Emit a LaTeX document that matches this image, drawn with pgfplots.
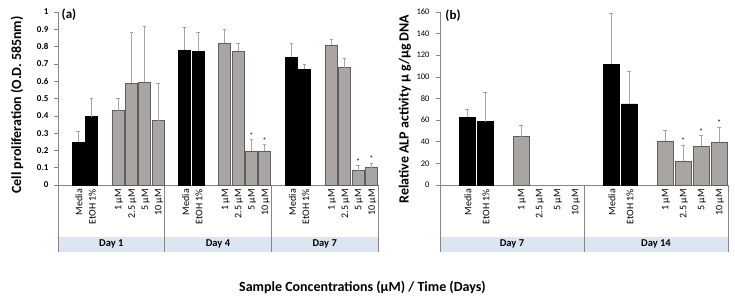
\documentclass[border=0pt]{standalone}
\usepackage{fontspec}
\setmainfont{Carlito}
\usepackage{pgfplots}
\pgfplotsset{compat=1.18}
\usepackage{pgfplotstable}

\definecolor{bargrey}{RGB}{168,165,162}
\definecolor{baredge}{RGB}{95,95,95}
\definecolor{errgrey}{RGB}{165,165,165}
\definecolor{axgrey}{RGB}{134,134,134}
\definecolor{bandblue}{RGB}{220,230,242}

% x = 8*group + position + 0.5 ; positions: 0 blank,1 Media,2 EtOH,3 blank,4 1uM,5 2.5uM,6 5uM,7 10uM
\pgfplotstableread{
x y e
1.5 0.247 0.065
2.5 0.395 0.104
9.5 0.780 0.130
10.5 0.773 0.107
17.5 0.738 0.080
18.5 0.670 0.027
}\LeftBlack
\pgfplotstableread{
x y e
4.5 0.430 0.070
5.5 0.588 0.295
6.5 0.594 0.321
7.5 0.372 0.216
12.5 0.819 0.081
13.5 0.773 0.046
14.5 0.197 0.067
15.5 0.197 0.038
20.5 0.810 0.032
21.5 0.678 0.052
22.5 0.083 0.029
23.5 0.100 0.027
}\LeftGrey
\pgfplotstableread{
x y
14.5 0.264
15.5 0.235
22.5 0.112
23.5 0.127
}\LeftStar
\pgfplotstableread{
x y e
1.5 62.6 7.4
2.5 58.6 27.0
9.5 111.5 47.0
10.5 75.0 30.0
}\RightBlack
\pgfplotstableread{
x y e
4.5 44.7 10.5
12.5 40.7 9.5
13.5 21.9 15.0
14.5 36.0 10.0
15.5 39.5 14.0
}\RightGrey
\pgfplotstableread{
x y
13.5 37.0
14.5 46.0
15.5 53.6
}\RightStar

\pgfplotsset{
  panel/.style={
    scale only axis,
    height=173pt,
    ymin=0,
    axis lines*=left,
    axis line style={axgrey, line width=0.6pt},
    every tick/.style={axgrey, line width=0.6pt},
    tick align=outside,
    major tick length=4pt,
    xtick style={draw=none},
    /pgf/number format/assume math mode=true,
    xticklabel style={rotate=90, anchor=east, font=\fontsize{10}{11}\selectfont, inner sep=0pt, yshift=-1pt},
    clip=false,
  },
  blackbar/.style={ybar, bar shift=0pt, fill=black, draw=black, line width=0.4pt,
    error bars/.cd, y dir=plus, y explicit,
    error bar style={errgrey, line width=0.6pt},
    error mark options={rotate=90, errgrey, mark size=1.6pt, line width=0.6pt}},
  greybar/.style={ybar, bar shift=0pt, fill=bargrey, draw=baredge, line width=0.5pt,
    error bars/.cd, y dir=plus, y explicit,
    error bar style={errgrey, line width=0.6pt},
    error mark options={rotate=90, errgrey, mark size=1.6pt, line width=0.6pt}},
  starplot/.style={draw=none, mark=none, nodes near coords={*},
    every node near coord/.append style={text=black, font=\fontsize{8}{8}\selectfont, inner sep=0pt, anchor=south, yshift=1pt}},
}

\begin{document}
\begin{tikzpicture}[x=1pt,y=1pt]
\useasboundingbox (0,0) rectangle (735,300);

% ---------- left panel ----------
\fill[bandblue] (58,48) rectangle (378,63.3);
\foreach \xx in {58,164.7,271.3,378} \draw[axgrey, line width=0.6pt] (\xx,48) -- (\xx,115);
\node[font=\bfseries\fontsize{10.5}{12}\selectfont] at (111.3,55.8) {Day 1};
\node[font=\bfseries\fontsize{10.5}{12}\selectfont] at (218,55.8) {Day 4};
\node[font=\bfseries\fontsize{10.5}{12}\selectfont] at (324.7,55.8) {Day 7};

\begin{axis}[panel,
  at={(58pt,115pt)}, anchor=south west,
  width=320pt,
  xmin=0, xmax=24, ymax=1,
  ytick={0,0.1,...,1.01},
  yticklabel style={font=\bfseries\fontsize{9}{10}\selectfont, /pgf/number format/fixed, /pgf/number format/precision=1, xshift=-2pt},
  xtick={0.5,1.5,...,23.5},
  xticklabels={,Media,EtOH 1\%,,1 µM,2.5 µM,5 µM,10 µM,,Media,EtOH 1\%,,1 µM,2.5 µM,5 µM,10 µM,,Media,EtOH 1\%,,1 µM,2.5 µM,5 µM,10 µM},
]
\addplot[bar width=12pt, blackbar] table[x=x, y=y, y error=e] {\LeftBlack};
\addplot[bar width=12pt, greybar] table[x=x, y=y, y error=e] {\LeftGrey};
\addplot[starplot] table[x=x, y=y] {\LeftStar};
\end{axis}
\node[font=\bfseries\fontsize{13}{15}\selectfont] at (69,285) {(a)};
\node[rotate=90, font=\bfseries\fontsize{14}{16}\selectfont] at (17,195) {Cell proliferation (O.D. 585nm)};

% ---------- right panel ----------
\fill[bandblue] (440,48) rectangle (728,63.3);
\foreach \xx in {440,584,728} \draw[axgrey, line width=0.6pt] (\xx,48) -- (\xx,115);
\node[font=\bfseries\fontsize{10.5}{12}\selectfont] at (512,55.8) {Day 7};
\node[font=\bfseries\fontsize{10.5}{12}\selectfont] at (656,55.8) {Day 14};

\begin{axis}[panel,
  at={(440pt,115pt)}, anchor=south west,
  width=288pt,
  xmin=0, xmax=16, ymax=160,
  ytick={0,20,...,160},
  yticklabel style={font=\fontsize{8.5}{10}\selectfont, xshift=-3pt},
  xtick={0.5,1.5,...,15.5},
  xticklabels={,Media,EtOH 1\%,,1 µM,2.5 µM,5 µM,10 µM,,Media,EtOH 1\%,,1 µM,2.5 µM,5 µM,10 µM},
]
\addplot[bar width=15.5pt, blackbar] table[x=x, y=y, y error=e] {\RightBlack};
\addplot[bar width=15.5pt, greybar] table[x=x, y=y, y error=e] {\RightGrey};
\addplot[starplot] table[x=x, y=y] {\RightStar};
\end{axis}
\node[font=\bfseries\fontsize{13}{15}\selectfont] at (453,284) {(b)};
\node[rotate=90, font=\bfseries\fontsize{14}{16}\selectfont] at (405,191) {Relative ALP activity µ g/µg DNA};

% ---------- common x label ----------
\node[font=\bfseries\fontsize{14}{16}\selectfont] at (362.5,13) {Sample Concentrations (µM) / Time (Days)};
\end{tikzpicture}
\end{document}
